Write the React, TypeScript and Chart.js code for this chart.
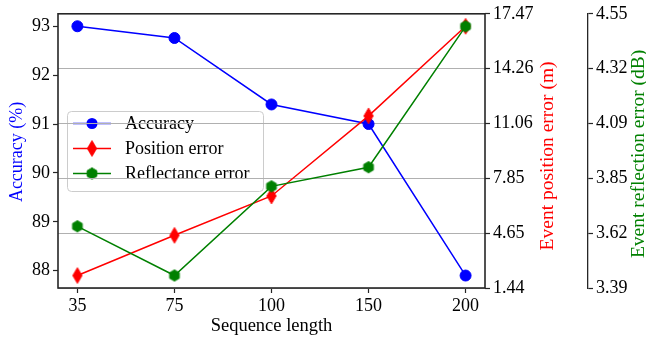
import { useEffect, useRef } from 'react';
import { Chart, registerables } from 'chart.js';

Chart.register(...registerables);

// Sequence lengths on the x axis
const sequenceLengths = ['35', '75', '100', '150', '200'];
// Accuracy (%) per sequence length — left axis
const accuracy = [93.0, 92.76, 91.4, 91.0, 87.9];
// Event position error (m) — first right axis
const positionError = [2.17, 4.52, 6.82, 11.5, 16.74];
// Event reflection error (dB) — second right axis
const reflectanceError = [3.651, 3.443, 3.82, 3.901, 4.497];

// Tick labels
const accuracyTicks = [88, 89, 90, 91, 92, 93];
const positionTicks = ['1.44', '4.65', '7.85', '11.06', '14.26', '17.47'];
const reflectanceTicks = ['3.39', '3.62', '3.85', '4.09', '4.32', '4.55'];

const FONT = "'Liberation Serif', 'Times New Roman', serif";
const FONT_SIZE = 18;
const INK = '#000000';
const SPINE = '#262626';
const BLUE = '#0000ff';
const RED = '#ff0000';
const GREEN = '#008000';

function makeMarker(kind: 'diamond' | 'hexagon', color: string): HTMLCanvasElement {
  const c = document.createElement('canvas');
  c.width = 14;
  c.height = 20;
  const ctx = c.getContext('2d')!;
  ctx.translate(7, 10);
  ctx.beginPath();
  if (kind === 'diamond') {
    const hh = 7.8;
    const hw = 4.6;
    ctx.moveTo(0, -hh);
    ctx.lineTo(hw, 0);
    ctx.lineTo(0, hh);
    ctx.lineTo(-hw, 0);
  } else {
    const r = 5.6;
    for (let k = 0; k < 6; k++) {
      const a = -Math.PI / 2 + (k * Math.PI) / 3;
      const px = r * Math.cos(a);
      const py = r * Math.sin(a);
      if (k === 0) ctx.moveTo(px, py);
      else ctx.lineTo(px, py);
    }
  }
  ctx.closePath();
  ctx.fillStyle = color;
  ctx.fill();
  ctx.lineWidth = 1;
  ctx.strokeStyle = color;
  ctx.stroke();
  return c;
}

function evenTicks(scale: any, count: number) {
  const step = (scale.max - scale.min) / (count - 1);
  scale.ticks = Array.from({ length: count }, (_, i) => ({ value: scale.min + i * step }));
}

export default function App() {
  const canvasRef = useRef<HTMLCanvasElement | null>(null);

  useEffect(() => {
    if (!canvasRef.current) return;
    const diamond = makeMarker('diamond', RED);
    const hexagon = makeMarker('hexagon', GREEN);

    const accMin = Math.min(...accuracy);
    const accMax = Math.max(...accuracy);
    const accPad = (accMax - accMin) * 0.05;

    const legendItems = [
      { label: 'Accuracy', color: BLUE, marker: 'circle' as const },
      { label: 'Position error', color: RED, marker: diamond },
      { label: 'Reflectance error', color: GREEN, marker: hexagon },
    ];

    const decor = {
      id: 'decor',
      beforeDraw(chart: any) {
        // legend box, drawn beneath the grid lines
        const ctx = chart.ctx as CanvasRenderingContext2D;
        ctx.save();
        const bx = 67.5, by = 111.5, bw = 196, bh = 80;
        ctx.beginPath();
        ctx.roundRect(bx, by, bw, bh, 4);
        ctx.fillStyle = 'rgba(255,255,255,0.8)';
        ctx.fill();
        ctx.lineWidth = 1;
        ctx.strokeStyle = '#cccccc';
        ctx.stroke();
        ctx.font = `${FONT_SIZE}px ${FONT}`;
        ctx.textBaseline = 'middle';
        ctx.textAlign = 'left';
        legendItems.forEach((it, i) => {
          const y = 123.5 + i * 25;
          ctx.beginPath();
          ctx.moveTo(73, y);
          ctx.lineTo(111, y);
          ctx.lineWidth = 1.5;
          ctx.strokeStyle = it.color;
          ctx.stroke();
          if (it.marker === 'circle') {
            ctx.beginPath();
            ctx.arc(92, y, 5.5, 0, Math.PI * 2);
            ctx.fillStyle = it.color;
            ctx.fill();
          } else {
            const m = it.marker as HTMLCanvasElement;
            ctx.drawImage(m, 92 - m.width / 2, y - m.height / 2);
          }
          ctx.fillStyle = INK;
          ctx.fillText(it.label, 125, y + 1);
        });
        ctx.restore();
      },
      afterDatasetsDraw(chart: any) {
        const ctx = chart.ctx as CanvasRenderingContext2D;
        const a = chart.chartArea;
        ctx.save();
        ctx.lineWidth = 1.6;
        ctx.strokeStyle = SPINE;
        ctx.strokeRect(a.left, a.top, a.right - a.left, a.bottom - a.top);
        ctx.restore();
      },
      afterDraw(chart: any) {
        const ctx = chart.ctx as CanvasRenderingContext2D;
        const a = chart.chartArea;
        const midY = (a.top + a.bottom) / 2;
        ctx.save();
        ctx.textAlign = 'center';
        ctx.textBaseline = 'middle';
        ctx.fillStyle = INK;
        ctx.font = `18.5px ${FONT}`;
        ctx.fillText('Sequence length', (a.left + a.right) / 2, 326);
        const vertical = (text: string, x: number, y: number, size: number, color: string) => {
          ctx.save();
          ctx.font = `${size}px ${FONT}`;
          ctx.translate(x, y);
          ctx.rotate(-Math.PI / 2);
          ctx.fillStyle = color;
          ctx.fillText(text, 0, 0);
          ctx.restore();
        };
        vertical('Accuracy (%)', 17, midY + 1, 18, BLUE);
        vertical('Event position error (m)', 548, midY + 5, 19.5, RED);
        vertical('Event reflection error (dB)', 639, midY + 3, 19.5, GREEN);
        ctx.restore();
      },
    };

    const tickFont = { family: FONT, size: FONT_SIZE };

    const chart = new Chart(canvasRef.current, {
      type: 'line',
      data: {
        datasets: [
          {
            label: 'Accuracy',
            data: accuracy.map((v, i) => ({ x: i, y: v })),
            yAxisID: 'y',
            borderColor: BLUE,
            backgroundColor: BLUE,
            borderWidth: 1.5,
            pointStyle: 'circle',
            pointRadius: 5.5,
            pointBorderWidth: 1,
            pointBackgroundColor: BLUE,
            pointBorderColor: BLUE,
            order: 3,
          },
          {
            label: 'Position error',
            data: positionError.map((v, i) => ({ x: i, y: v })),
            yAxisID: 'y1',
            borderColor: RED,
            backgroundColor: RED,
            borderWidth: 1.5,
            pointStyle: diamond,
            order: 2,
          },
          {
            label: 'Reflectance error',
            data: reflectanceError.map((v, i) => ({ x: i, y: v })),
            yAxisID: 'y2',
            borderColor: GREEN,
            backgroundColor: GREEN,
            borderWidth: 1.5,
            pointStyle: hexagon,
            order: 1,
          },
        ],
      },
      options: {
        animation: false,
        responsive: false,
        devicePixelRatio: 1,
        layout: { padding: { top: 12, left: 0, right: 0, bottom: 0 } },
        plugins: { legend: { display: false }, tooltip: { enabled: false } },
        elements: { line: { tension: 0 } },
        scales: {
          x: {
            type: 'linear',
            min: -0.2,
            max: sequenceLengths.length - 1 + 0.2,
            afterBuildTicks: (s: any) => {
              s.ticks = sequenceLengths.map((_, i) => ({ value: i }));
            },
            afterFit: (s: any) => {
              s.height = 51;
            },
            ticks: {
              autoSkip: false,
              maxRotation: 0,
              padding: 2,
              color: INK,
              font: tickFont,
              callback: (v: any) => sequenceLengths[Math.round(Number(v))] ?? '',
            },
            grid: { display: true, drawOnChartArea: false, tickLength: 5, tickColor: SPINE, tickWidth: 1.2 },
            border: { display: false },
          },
          y: {
            type: 'linear',
            position: 'left',
            min: accMin - accPad,
            max: accMax + accPad,
            afterBuildTicks: (s: any) => {
              s.ticks = accuracyTicks.map((v) => ({ value: v }));
            },
            afterFit: (s: any) => {
              s.width = 58;
            },
            ticks: { padding: 3, color: INK, font: tickFont, callback: (v: any) => String(v) },
            grid: { display: true, drawOnChartArea: false, tickLength: 5, tickColor: SPINE, tickWidth: 1.2 },
            border: { display: false },
          },
          y1: {
            type: 'linear',
            position: 'right',
            min: parseFloat(positionTicks[0]),
            max: parseFloat(positionTicks[positionTicks.length - 1]),
            afterBuildTicks: (s: any) => evenTicks(s, positionTicks.length),
            afterFit: (s: any) => {
              s.width = 103;
            },
            ticks: {
              padding: 3,
              color: INK,
              font: tickFont,
              callback: (_v: any, i: number) => positionTicks[i],
            },
            grid: {
              display: true,
              drawOnChartArea: true,
              color: '#b0b0b0',
              lineWidth: 1,
              tickLength: 5,
              tickColor: SPINE,
              tickWidth: 1.2,
            },
            border: { display: false },
          },
          y2: {
            type: 'linear',
            position: 'right',
            min: parseFloat(reflectanceTicks[0]),
            max: parseFloat(reflectanceTicks[reflectanceTicks.length - 1]),
            afterBuildTicks: (s: any) => evenTicks(s, reflectanceTicks.length),
            afterFit: (s: any) => {
              s.width = 58;
            },
            ticks: {
              padding: 3,
              color: INK,
              font: tickFont,
              callback: (_v: any, i: number) => reflectanceTicks[i],
            },
            grid: { display: true, drawOnChartArea: false, tickLength: 5, tickColor: SPINE, tickWidth: 1.2 },
            border: { display: true, color: SPINE, width: 1.3 },
          },
        },
      },
      plugins: [decor],
    } as any);

    return () => chart.destroy();
  }, []);

  return (
    <div style={{ position: 'fixed', left: 0, top: 0, width: 646, height: 339, background: '#ffffff' }}>
      <canvas ref={canvasRef} width={646} height={339} style={{ display: 'block' }} />
    </div>
  );
}
